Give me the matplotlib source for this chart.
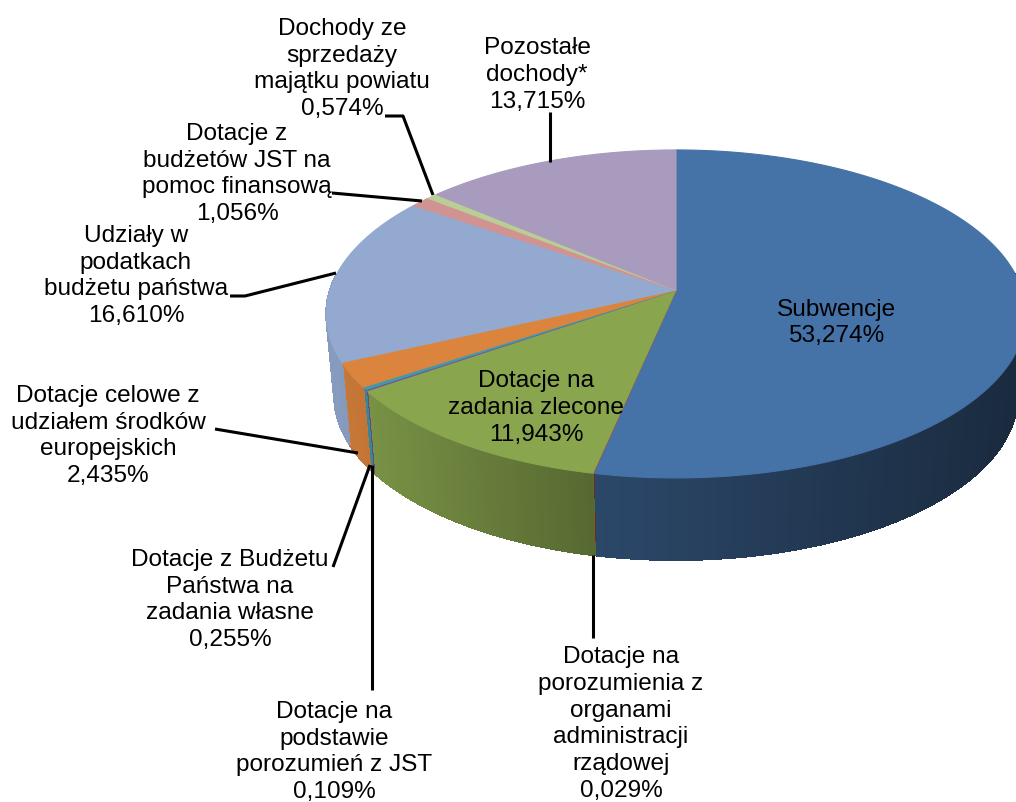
import numpy as np
import matplotlib
matplotlib.use("Agg")
import matplotlib.pyplot as plt
from matplotlib.patches import Polygon

labels = ["Subwencje\n53,274%",
          "Dotacje na\nporozumienia z\norganami\nadministracji\nrządowej\n0,029%",
          "Dotacje na\nzadania zlecone\n11,943%",
          "Dotacje na\npodstawie\nporozumień z JST\n0,109%",
          "Dotacje z Budżetu\nPaństwa na\nzadania własne\n0,255%",
          "Dotacje celowe z\nudziałem środków\neuropejskich\n2,435%",
          "Udziały w\npodatkach\nbudżetu państwa\n16,610%",
          "Dotacje z\nbudżetów JST na\npomoc finansową\n1,056%",
          "Dochody ze\nsprzedaży\nmajątku powiatu\n0,574%",
          "Pozostałe\ndochody*\n13,715%"]
values = [53.274, 0.029, 11.943, 0.109, 0.255, 2.435, 16.610, 1.056, 0.574, 13.715]
colors = ["#4572a7", "#aa4643", "#89a54e", "#71588f", "#4198af", "#db843d",
          "#93a9cf", "#d19392", "#b9cd96", "#a99bbd"]
label_pos = [(836, 323), (621, 724), (536, 408), (334, 752), (230, 600),
             (108, 436), (136, 276), (237, 174), (342, 69), (537, 75)]
leaders = [None,
           [(593, 638), (593, 555)],
           None,
           [(372, 690), (372, 465)],
           [(333, 567), (370, 465)],
           [(215, 429), (358, 453)],
           [(230, 296), (245, 296), (336, 273)],
           [(332, 193), (422, 201)],
           [(385, 116), (403, 116), (433, 195)],
           [(550, 112), (550, 162)]]

# pie geometry (pixels): apex, projective tilt, scales, depth, lower rim narrowing
AX, AY = 676, 290
P, KX, KY = 0.146, 346, 160.5
DEPTH = 82
LOWER = 0.977


def rim(theta):
    """theta in radians, clockwise from the top of the pie."""
    u, v = np.sin(theta), np.cos(theta)
    d = 1 + P * v
    return AX + KX * u / d, AY - KY * v / d


def shade(x):
    return np.interp(x, [330, 595, 1010], [0.92, 0.63, 0.38])


fig = plt.figure(figsize=(10.16, 8.02), dpi=100)
ax = fig.add_axes([0, 0, 1, 1])
ax.set_xlim(0, 1016)
ax.set_ylim(802, 0)
ax.axis("off")
plt.rcParams["font.family"] = ["Liberation Sans", "DejaVu Sans"]

edges = np.radians(np.concatenate([[0], np.cumsum(values)]) * 3.6)

# side walls: thin strips, only on the near half
for i, c in enumerate(colors):
    a0, a1 = edges[i], edges[i + 1]
    n = max(2, int(np.degrees(a1 - a0) * 2))
    ts = np.linspace(a0, a1, n + 1)
    rgb = np.array(matplotlib.colors.to_rgb(c))
    for t0, t1 in zip(ts[:-1], ts[1:]):
        tm = (t0 + t1) / 2
        if np.cos(tm) > 0.1:
            continue
        x0, y0 = rim(t0)
        x1, y1 = rim(t1)
        bx0 = AX + (x0 - AX) * LOWER
        bx1 = AX + (x1 - AX) * LOWER
        col = np.clip(rgb * shade((x0 + x1) / 2), 0, 1)
        ax.add_patch(Polygon([(x0, y0), (x1, y1), (bx1, y1 + DEPTH), (bx0, y0 + DEPTH)],
                             closed=True, fc=col, ec=col, lw=0.8, zorder=2,
                             antialiased=False))

# top faces
for i, c in enumerate(colors):
    a0, a1 = edges[i], edges[i + 1]
    n = max(2, int(np.degrees(a1 - a0) * 2))
    xs, ys = rim(np.linspace(a0, a1, n + 1))
    pts = [(AX, AY)] + list(zip(xs, ys))
    ax.add_patch(Polygon(pts, closed=True, fc=c, ec=c, lw=0.8, zorder=3))

# leader lines
for seg in leaders:
    if seg:
        xs, ys = zip(*seg)
        ax.plot(xs, ys, color="black", lw=2.2, solid_capstyle="butt", zorder=4)

# labels
for (x, y), t in zip(label_pos, labels):
    ax.text(x, y, t, ha="center", va="center", fontsize=17.6, color="black",
            linespacing=1.28, zorder=5)

fig.savefig("out.png", dpi=100)
